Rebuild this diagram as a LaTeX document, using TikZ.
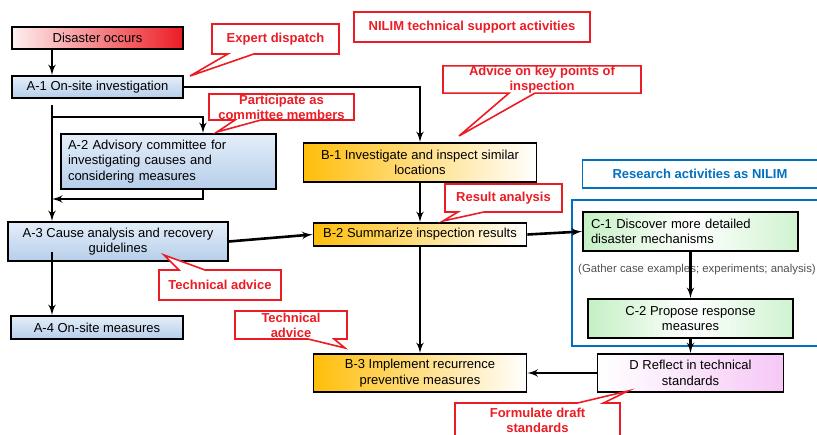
\documentclass[tikz,border=0pt]{standalone}
\usepackage{fontspec}
\setmainfont{Liberation Sans}
\usetikzlibrary{arrows}
\usetikzlibrary{shapes.callouts}
\definecolor{nred}{RGB}{236,28,36}
\definecolor{nblue}{RGB}{0,112,192}
\definecolor{atop}{RGB}{228,238,249}
\definecolor{abot}{RGB}{182,206,234}
\definecolor{bgold}{RGB}{255,190,10}
\definecolor{cgreen}{RGB}{196,240,196}
\definecolor{dpink}{RGB}{246,200,246}
\definecolor{ngray}{RGB}{80,80,80}
\tikzset{box/.style = {draw, line width=1.8pt, inner sep=0pt, align=center,
                       font=\fontsize{13}{15.5}\selectfont}}
\tikzset{abox/.style = {box, top color=atop, bottom color=abot}}
\tikzset{bbox/.style = {box, left color=bgold, right color=white}}
\tikzset{cbox/.style = {box, left color=cgreen, right color=cgreen!80, middle color=white}}
\tikzset{dbox/.style = {box, left color=white, right color=dpink}}
\tikzset{redbox/.style = {box, left color=red!6, right color=nred}}
\tikzset{note/.style = {rectangle callout, draw=nred, fill=white, line width=1.6pt,
                        text=nred, inner sep=0pt, align=center, callout pointer width=26pt,
                        font=\bfseries\fontsize{13}{15}\selectfont}}
\tikzset{arr/.style = {line width=2.6pt, -latex'}}

\begin{document}
\begin{tikzpicture}[x=1pt, y=-1pt]
  \useasboundingbox (0,0) rectangle (817,435);

  \draw [nblue, line width=2pt] (572,200) rectangle (830,346);

  \node [draw=nred, line width=1.6pt, text=nred, minimum width=236, minimum height=30,
         font=\bfseries\fontsize{13}{15}\selectfont] (nilim) at (472,27)
        {NILIM technical support activities};
  \node [draw=nblue, line width=1.6pt, text=nblue, minimum width=235, minimum height=28,
         font=\bfseries\fontsize{13}{15}\selectfont] (research) at (700,174)
        {Research activities as NILIM};

  % A column
  \node [redbox, minimum width=171, minimum height=22] (disaster) at (97.5,38) {Disaster occurs};
  \node [abox, minimum width=171, minimum height=22] (a1) at (97.5,87) {A-1 On-site investigation};
  \node [abox, align=left, text width=201, inner xsep=7, minimum height=55] (a2) at (168.5,161.5)
        {A-2 Advisory committee for\\investigating causes and\\considering measures};
  \node [abox, minimum width=220, minimum height=39] (a3) at (118,241.5)
        {A-3 Cause analysis and recovery\\guidelines};
  \node [abox, minimum width=172, minimum height=23] (a4) at (97,327.5) {A-4 On-site measures};

  % B column
  \node [bbox, minimum width=233, minimum height=39] (b1) at (420,162.5)
        {B-1 Investigate and inspect similar\\locations};
  \node [bbox, minimum width=213, minimum height=23] (b2) at (420,234.5) {B-2 Summarize inspection results};
  \node [bbox, minimum width=213, minimum height=38] (b3) at (420,373)
        {B-3 Implement recurrence\\preventive measures};

  % C and D
  \node [cbox, align=left, text width=199, inner xsep=8, minimum height=39] (c1) at (690.5,231.5)
        {C-1 Discover more detailed\\disaster mechanisms};
  \node [text=ngray, font=\fontsize{11.4}{13}\selectfont] (gather) at (697,270)
        {(Gather case examples; experiments; analysis)};
  \node [cbox, minimum width=205, minimum height=39] (c2) at (690.5,318.5)
        {C-2 Propose response\\measures};
  \node [dbox, minimum width=186, minimum height=38] (d) at (690.5,373)
        {D Reflect in technical\\standards};

  % trunk coordinates
  \coordinate (tk) at (52,0);
  \coordinate (ax) at (203,0);
  \coordinate (a1out) at (52,105);
  \coordinate (branch) at (52,117);
  \coordinate (back) at (52,199);
  \coordinate (a3out) at (52,252);

  \draw [arr] (disaster.south -| tk) -- (a1.north -| tk);
  \draw [arr] (a1.east) -| (b1.north);
  \draw [arr] (a1out) -- (a3.north -| tk);
  \draw [arr] (branch) -| (a2.north -| ax);
  \draw [arr] (a2.south -| ax) |- (back);
  \draw [arr] (a3out) -- (a4.north -| tk);
  \draw [arr] (a3.east) -- (b2.west);
  \draw [arr] (b1.south) -- (b2.north);
  \draw [arr] (b2.south) -- (b3.north);
  \draw [arr] (b2.east) -- (c1.west);
  \draw [arr] (c1.south) -- (c2.north);
  \draw [arr] (c2.south) -- (d.north);
  \draw [arr] (d.west) -- (b3.east);

  % callouts
  \coordinate (expertTip) at (190,76);
  \coordinate (memberTip) at (217,132);
  \coordinate (adviceTip) at (459,136);
  \coordinate (resultTip) at (443,221);
  \coordinate (techTip) at (164,255);
  \coordinate (tech2Tip) at (345,348);
  \coordinate (draftTip) at (628,391);

  \node [note, minimum width=127, minimum height=30, callout absolute pointer={(expertTip)}]
        (expert) at (275.5,39) {Expert dispatch};
  \node [note, minimum width=145, minimum height=26, callout absolute pointer={(memberTip)}]
        (member) at (281.5,107) {Participate as\\committee members};
  \node [note, minimum width=198, minimum height=27, callout absolute pointer={(adviceTip)}]
        (advice) at (542,79.5) {Advice on key points of\\inspection};
  \node [note, minimum width=117, minimum height=28, callout absolute pointer={(resultTip)}]
        (result) at (503.5,198) {Result analysis};
  \node [note, minimum width=122, minimum height=30, callout absolute pointer={(techTip)}]
        (tech) at (220,285) {Technical advice};
  \node [note, minimum width=112, minimum height=28, callout absolute pointer={(tech2Tip)}]
        (tech2) at (291,325) {Technical\\advice};
  \node [note, minimum width=165, minimum height=34, callout absolute pointer={(draftTip)}]
        (draft) at (537.5,420) {Formulate draft\\standards};
\end{tikzpicture}
\end{document}
